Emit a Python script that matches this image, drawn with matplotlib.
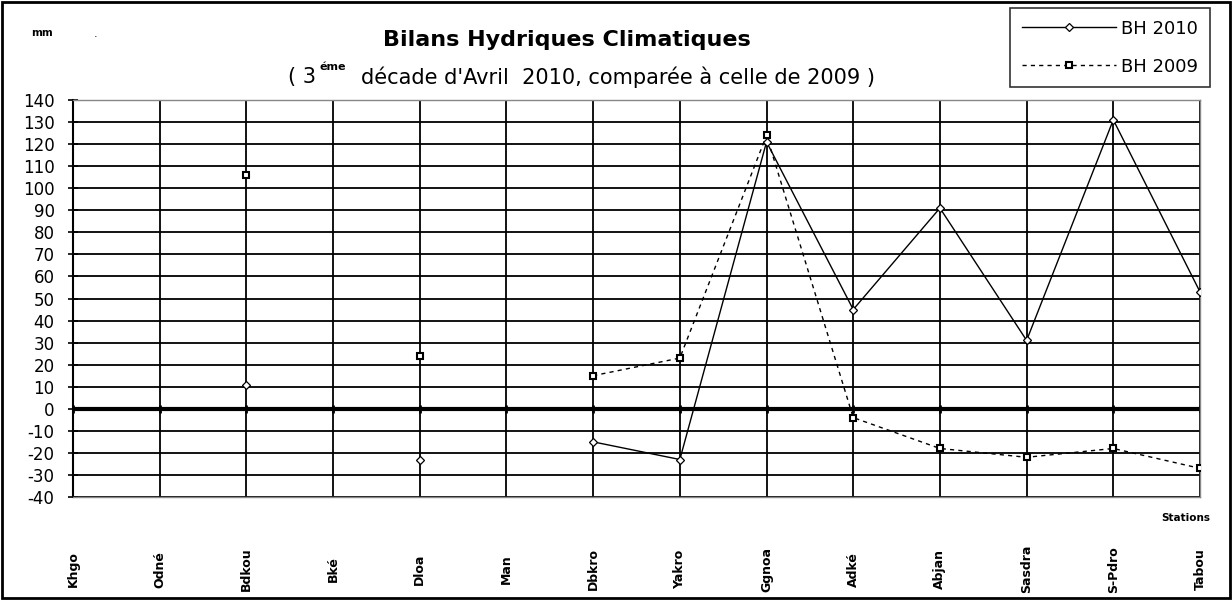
import numpy as np
import matplotlib
matplotlib.use("Agg")
import matplotlib.pyplot as plt
from matplotlib.patches import Rectangle

plt.rcParams['font.family'] = ['DejaVu Sans']
plt.rcParams['axes.unicode_minus'] = False

# stations (x categories) and water balance values, mm
stations = ['Khgo', 'Odné', 'Bdkou', 'Bké', 'Dloa', 'Man', 'Dbkro', 'Yakro',
            'Ggnoa', 'Adké', 'Abjan', 'Sasdra', 'S-Pdro', 'Tabou']
bh_2010 = [np.nan, np.nan, 11, np.nan, -23, np.nan, -15, -23, 121, 45, 91, 31, 131, 53]
bh_2009 = [np.nan, np.nan, 106, np.nan, 24, np.nan, 15, 23, 124, -4, -18, -22, -18, -27]
yticks = list(range(-40, 141, 10))

x = np.arange(len(stations))

fig = plt.figure(figsize=(12.32, 6.0), dpi=100)
ax = fig.add_axes([73 / 1232, 1 - 497 / 600, (1200 - 73) / 1232, (497 - 100) / 600])

# grid first, so data goes over it
for v in yticks:
    ax.axhline(v, color='black', lw=1.3, zorder=1)
for xi in x:
    ax.axvline(xi, color='black', lw=1.3, zorder=1)
ax.axhline(0, color='black', lw=3, zorder=2)
ax.plot(x, np.zeros(len(x)), ls='none', marker='|', ms=6, mew=2, color='black', zorder=2)

ax.plot(x, bh_2010, color='black', lw=1, marker='D', ms=4.5, mfc='white', mec='black',
        mew=0.9, label='BH 2010', zorder=4)
ax.plot(x, bh_2009, color='black', lw=1, ls=(0, (3, 3)), marker='s', ms=4.5, mfc='white',
        mec='black', mew=1.5, label='BH 2009', zorder=3)

ax.set_xlim(0, len(stations) - 1)
ax.set_ylim(-40, 140)
ax.set_yticks(yticks)
ax.tick_params(axis='y', labelsize=12, length=6.5, width=1.2, direction='inout', pad=10)
ax.set_xticks(x)
ax.set_xticklabels(stations, rotation=90, fontsize=9, fontweight='bold', va='center')
ax.tick_params(axis='x', length=0, pad=52)

for s in ['top', 'right', 'bottom']:
    ax.spines[s].set_color('#888888')
    ax.spines[s].set_linewidth(1)
ax.spines['left'].set_linewidth(1.5)

leg = ax.legend(loc='upper right', bbox_to_anchor=(1210 / 1232, 1 - 8 / 600),
                bbox_transform=fig.transFigure, fontsize=13, handlelength=5.2,
                frameon=True, fancybox=False, edgecolor='black', borderpad=0.65,
                labelspacing=1.1, handletextpad=0.3, borderaxespad=0)
leg.get_frame().set_linewidth(1.2)

fig.text(567 / 1232, 1 - 40 / 600, 'Bilans Hydriques Climatiques', ha='center', va='center',
         fontsize=16, fontweight='bold')
fig.text(316 / 1232, 1 - 77 / 600, '( 3', ha='right', va='center', fontsize=15)
fig.text(319 / 1232, 1 - 67 / 600, 'éme', ha='left', va='center', fontsize=8, fontweight='bold')
fig.text(361 / 1232, 1 - 77 / 600, "décade d'Avril  2010, comparée à celle de 2009 )",
         ha='left', va='center', fontsize=15)
fig.text(42 / 1232, 1 - 33 / 600, 'mm', ha='center', va='center', fontsize=7.5, fontweight='bold')
fig.text(96 / 1232, 1 - 34 / 600, '.', ha='center', va='center', fontsize=8)
fig.text(1210 / 1232, 1 - 518 / 600, 'Stations', ha='right', va='center', fontsize=7.5,
         fontweight='bold')

fig.patches.append(Rectangle((0.002, 0.003), 0.996, 0.994, transform=fig.transFigure,
                             fill=False, edgecolor='black', lw=2))

fig.savefig('out.png', dpi=100, facecolor='white')
